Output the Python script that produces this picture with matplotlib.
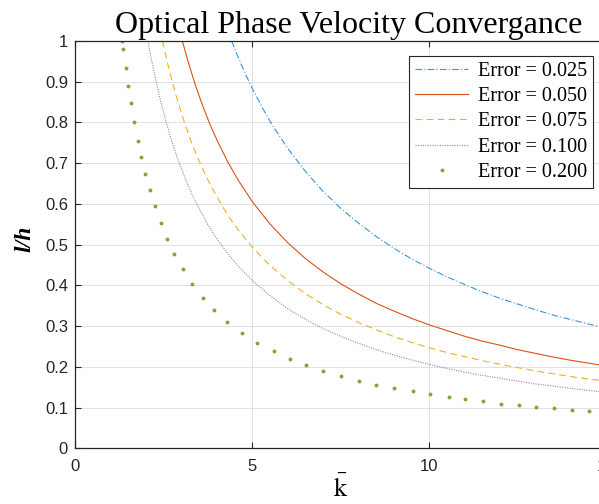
import matplotlib
matplotlib.use("Agg")
import matplotlib.pyplot as plt

# Normalised wavenumber samples and l/h values for each error level
k_025 = [4.42, 4.6, 4.8, 5.0, 5.3, 5.6, 6.0, 6.5, 7.0, 7.5, 8.0, 8.5, 9.0, 9.5,
         10.0, 10.5, 11.0, 11.5, 12.0, 12.5, 13.0, 13.5, 14.0, 14.5, 15.0]
lh_025 = [1.0, 0.961, 0.921, 0.884, 0.834, 0.789, 0.737, 0.680, 0.631, 0.589, 0.553,
          0.520, 0.491, 0.465, 0.442, 0.421, 0.402, 0.384, 0.368, 0.354, 0.340,
          0.327, 0.316, 0.305, 0.295]

k_050 = [3.03, 3.2, 3.4, 3.6, 3.8, 4.0, 4.3, 4.6, 5.0, 5.5, 6.0, 6.5, 7.0, 7.5, 8.0,
         8.5, 9.0, 9.5, 10.0, 10.5, 11.0, 11.5, 12.0, 12.5, 13.0, 13.5, 14.0, 14.5, 15.0]
lh_050 = [1.0, 0.947, 0.891, 0.842, 0.797, 0.758, 0.705, 0.659, 0.606, 0.551, 0.505,
          0.466, 0.433, 0.404, 0.379, 0.356, 0.337, 0.319, 0.303, 0.289, 0.275,
          0.263, 0.253, 0.242, 0.233, 0.224, 0.216, 0.209, 0.202]

k_075 = [2.47, 2.6, 2.75, 2.9, 3.1, 3.3, 3.5, 3.75, 4.0, 4.3, 4.6, 5.0, 5.5, 6.0, 6.5,
         7.0, 7.5, 8.0, 8.5, 9.0, 9.5, 10.0, 10.5, 11.0, 11.5, 12.0, 12.5, 13.0,
         13.5, 14.0, 14.5, 15.0]
lh_075 = [1.0, 0.950, 0.898, 0.852, 0.797, 0.748, 0.706, 0.659, 0.618, 0.574, 0.537,
          0.494, 0.449, 0.412, 0.380, 0.353, 0.329, 0.309, 0.291, 0.274, 0.260,
          0.247, 0.235, 0.225, 0.215, 0.206, 0.198, 0.190, 0.183, 0.176, 0.170, 0.165]

k_100 = [2.06, 2.15, 2.25, 2.4, 2.55, 2.7, 2.9, 3.1, 3.3, 3.5, 3.75, 4.0, 4.3, 4.6,
         5.0, 5.5, 6.0, 6.5, 7.0, 7.5, 8.0, 8.5, 9.0, 9.5, 10.0, 10.5, 11.0, 11.5,
         12.0, 12.5, 13.0, 13.5, 14.0, 14.5, 15.0]
lh_100 = [1.0, 0.958, 0.916, 0.858, 0.808, 0.763, 0.710, 0.665, 0.624, 0.589, 0.549,
          0.515, 0.479, 0.448, 0.412, 0.375, 0.343, 0.317, 0.294, 0.275, 0.258,
          0.242, 0.229, 0.217, 0.206, 0.196, 0.187, 0.179, 0.172, 0.165, 0.158,
          0.153, 0.147, 0.142, 0.137]

k_200 = [1.335, 1.363, 1.44, 1.504, 1.58, 1.665, 1.77, 1.87, 1.984, 2.11, 2.258,
         2.42, 2.597, 2.80, 3.04, 3.30, 3.60, 3.92, 4.30, 4.70, 5.13, 5.61, 6.07,
         6.51, 7.01, 7.51, 8.01, 8.50, 9.0, 9.53, 10.01, 10.55, 11.01, 11.51, 12.02,
         12.52, 13.02, 13.52, 14.02, 14.52]
lh_200 = [1.0, 0.980, 0.934, 0.889, 0.848, 0.801, 0.754, 0.714, 0.674, 0.634, 0.594,
          0.554, 0.514, 0.477, 0.440, 0.404, 0.370, 0.340, 0.310, 0.283, 0.259,
          0.238, 0.220, 0.205, 0.191, 0.178, 0.166, 0.156, 0.148, 0.140, 0.133,
          0.126, 0.120, 0.115, 0.110, 0.106, 0.102, 0.098, 0.094, 0.091]

labels = ["Error = 0.025", "Error = 0.050", "Error = 0.075", "Error = 0.100", "Error = 0.200"]

plt.rcParams["mathtext.fontset"] = "stix"

fig = plt.figure(figsize=(5.99, 5.04), dpi=100)
ax = fig.add_axes([0.1252, 0.1105, 0.8873, 0.8082])

ax.plot(k_025, lh_025, color="#3A95D3", lw=0.8, ls=(0, (6, 2, 1, 2)), label=labels[0])
ax.plot(k_050, lh_050, color="#D95319", lw=0.8, ls="-", label=labels[1])
ax.plot(k_075, lh_075, color="#EDB120", lw=0.8, ls=(0, (6, 4)), label=labels[2])
ax.plot(k_100, lh_100, color="#7E2F8E", lw=0.8, ls=(0, (1, 1.2)), alpha=0.65, label=labels[3])
ax.plot(k_200, lh_200, color="#77AC30", ls="none", marker="o", ms=2.8, mew=0, label=labels[4])

ax.set_xlim(0, 15)
ax.set_ylim(0, 1)
ax.set_xticks([0, 5, 10, 15])
ax.set_yticks([0, 0.1, 0.2, 0.3, 0.4, 0.5, 0.6, 0.7, 0.8, 0.9, 1])
ax.set_yticklabels(["0", "0.1", "0.2", "0.3", "0.4", "0.5", "0.6", "0.7", "0.8", "0.9", "1"])

ax.grid(True, color="#dcdcdc", lw=0.6)
ax.set_axisbelow(True)
ax.tick_params(direction="in", length=4, width=0.8, colors="#262626",
               labelsize=12, top=True, right=True)
ax.tick_params(axis="x", pad=8)
ax.tick_params(axis="y", pad=5)
for t in ax.get_xticklabels() + ax.get_yticklabels():
    t.set_fontfamily("Liberation Sans")
for s in ax.spines.values():
    s.set_color("#262626")
    s.set_linewidth(0.9)

ax.set_title("Optical Phase Velocity Convergance", fontfamily="Liberation Serif",
             fontsize=23, pad=6, x=0.5155)
ax.set_xlabel(r"$\bar{\mathrm{k}}$", fontsize=19)
ax.xaxis.set_label_coords(0.5, -0.068)
ax.set_ylabel("l/h", fontfamily="Liberation Serif", fontweight="bold",
              fontstyle="italic", fontsize=17)
ax.yaxis.set_label_coords(-0.074, 0.515)

leg = ax.legend(loc="upper right", bbox_to_anchor=(0.9746, 0.964),
                prop={"family": "Liberation Serif", "size": 14.5},
                fancybox=False, framealpha=1, edgecolor="#262626",
                handlelength=2.6, labelspacing=0.31, borderpad=0.3,
                handletextpad=0.5, borderaxespad=0)
leg.get_frame().set_linewidth(0.8)

fig.savefig("out.png", dpi=100)
